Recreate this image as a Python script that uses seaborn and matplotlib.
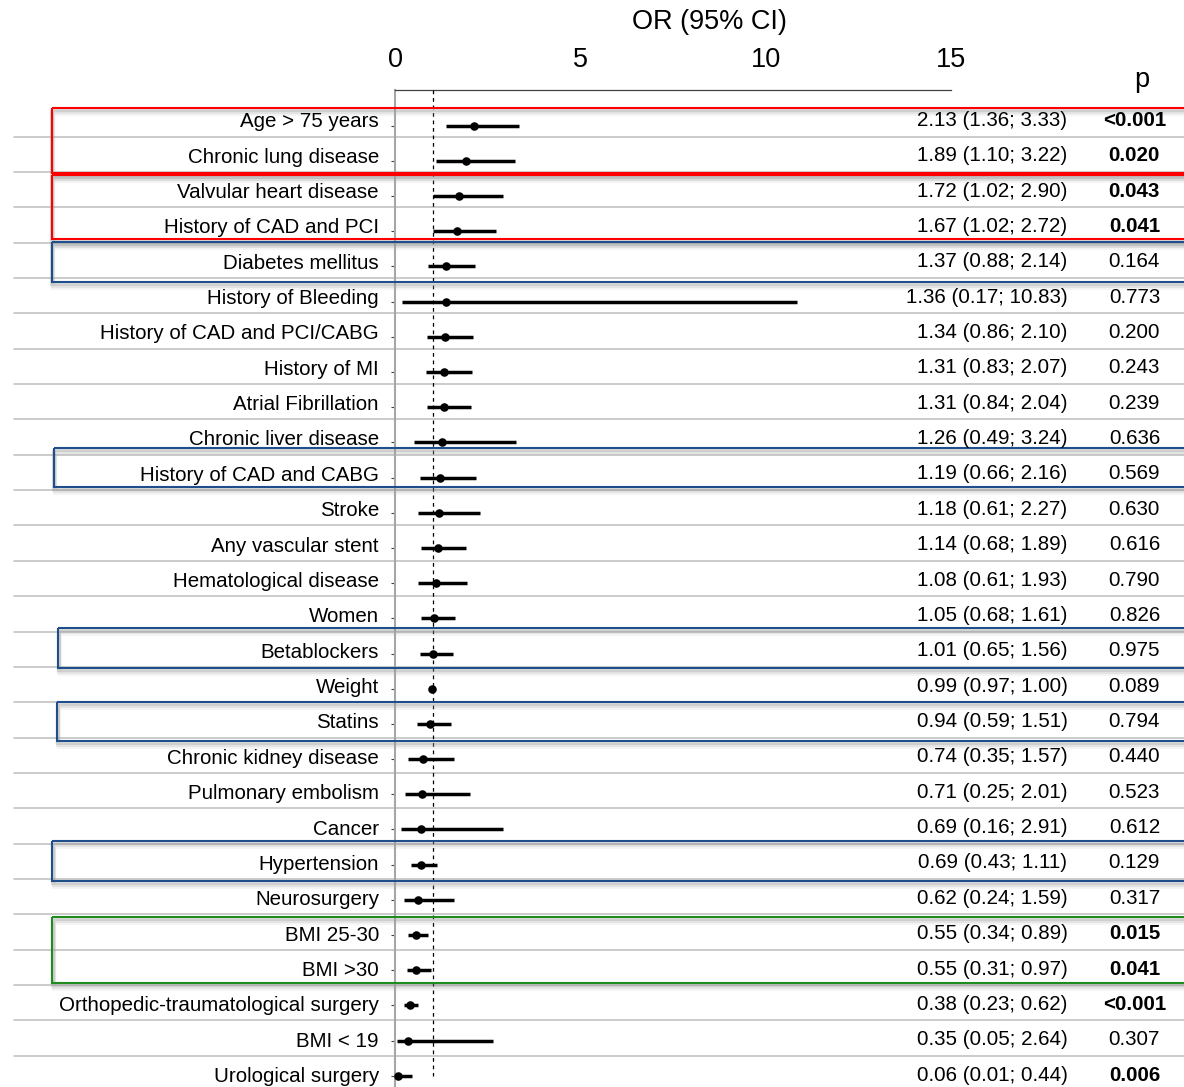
import matplotlib
matplotlib.use("Agg")
import matplotlib.pyplot as plt
import matplotlib.patheffects as pe
from matplotlib.patches import Rectangle
import seaborn as sns
import pandas as pd

# ---- data -------------------------------------------------------------
factors = [
    "Age > 75 years", "Chronic lung disease", "Valvular heart disease",
    "History of CAD and PCI", "Diabetes mellitus", "History of Bleeding",
    "History of CAD and PCI/CABG", "History of MI", "Atrial Fibrillation",
    "Chronic liver disease", "History of CAD and CABG", "Stroke",
    "Any vascular stent", "Hematological disease", "Women", "Betablockers",
    "Weight", "Statins", "Chronic kidney disease", "Pulmonary embolism",
    "Cancer", "Hypertension", "Neurosurgery", "BMI 25-30", "BMI >30",
    "Orthopedic-traumatological surgery", "BMI < 19", "Urological surgery",
]
odds_ratio = [2.13, 1.89, 1.72, 1.67, 1.37, 1.36, 1.34, 1.31, 1.31, 1.26,
              1.19, 1.18, 1.14, 1.08, 1.05, 1.01, 0.99, 0.94, 0.74, 0.71,
              0.69, 0.69, 0.62, 0.55, 0.55, 0.38, 0.35, 0.06]
ci_lower = [1.36, 1.10, 1.02, 1.02, 0.88, 0.17, 0.86, 0.83, 0.84, 0.49,
            0.66, 0.61, 0.68, 0.61, 0.68, 0.65, 0.97, 0.59, 0.35, 0.25,
            0.16, 0.43, 0.24, 0.34, 0.31, 0.23, 0.05, 0.01]
ci_upper = [3.33, 3.22, 2.90, 2.72, 2.14, 10.83, 2.10, 2.07, 2.04, 3.24,
            2.16, 2.27, 1.89, 1.93, 1.61, 1.56, 1.00, 1.51, 1.57, 2.01,
            2.91, 1.11, 1.59, 0.89, 0.97, 0.62, 2.64, 0.44]
p_values = ["<0.001", "0.020", "0.043", "0.041", "0.164", "0.773", "0.200",
            "0.243", "0.239", "0.636", "0.569", "0.630", "0.616", "0.790",
            "0.826", "0.975", "0.089", "0.794", "0.440", "0.523", "0.612",
            "0.129", "0.317", "0.015", "0.041", "<0.001", "0.307", "0.006"]
significant = [True, True, True, True, False, False, False, False, False,
               False, False, False, False, False, False, False, False, False,
               False, False, False, False, False, True, True, True, False,
               True]
x_ticks = [0, 5, 10, 15]

df = pd.DataFrame({"factor": factors, "or_": odds_ratio,
                   "lo": ci_lower, "hi": ci_upper})
df["row"] = range(len(df))

# ---- highlighted groups: (top edge, bottom edge, left edge in OR units, colour)
RED, BLUE, GREEN = "#FF0000", "#1F4E8C", "#1E8C1E"
highlight_boxes = [
    (-0.50, 1.33, -9.28, RED),
    (1.40, 3.23, -9.28, RED),
    (3.30, 4.43, -9.28, BLUE),
    (9.15, 10.27, -9.23, BLUE),
    (14.27, 15.41, -9.10, BLUE),
    (16.37, 17.49, -9.13, BLUE),
    (20.33, 21.46, -9.26, BLUE),
    (22.49, 24.36, -9.26, GREEN),
]

# ---- figure -----------------------------------------------------------
sns.set_theme(style="white")
plt.rcParams["font.family"] = ["Liberation Sans", "DejaVu Sans"]

W, H = 1184, 1087
fig = plt.figure(figsize=(W / 100, H / 100), dpi=100)
ax = fig.add_axes([0, 0, 1, (H - 90) / H])

unit_x, zero_x = 37.05, 395.5      # pixels per OR unit, pixel of OR = 0
unit_y, zero_y = 35.19, 125.7      # pixels per row, pixel of first row
ax.set_xlim(-zero_x / unit_x, (W - zero_x) / unit_x)
ax.set_ylim((H - zero_y) / unit_y, (90 - zero_y) / unit_y)

n = len(df)
FS = 14.8

# row separators
for k in range(n - 1):
    ax.axhline(0.31 + k * 1.0046, xmin=13.8 / W, xmax=1.0,
               color="#BDBDBD", lw=1.1, zorder=1)

# group boxes with a soft drop shadow
shadow = [
    pe.SimpleLineShadow(offset=(0.5, -1.5), shadow_color="#909090",
                        alpha=0.30, linewidth=3),
    pe.SimpleLineShadow(offset=(0.8, -3.0), shadow_color="#A0A0A0",
                        alpha=0.20, linewidth=3),
    pe.SimpleLineShadow(offset=(1.0, -4.5), shadow_color="#B0B0B0",
                        alpha=0.12, linewidth=3),
    pe.Normal(),
]
for top, bottom, left, col in highlight_boxes:
    rect = Rectangle((left, top), 40, bottom - top, fill=False,
                     edgecolor=col, lw=1.5, zorder=4, clip_on=True)
    rect.set_path_effects(shadow)
    ax.add_patch(rect)

# reference line at OR = 1
ax.vlines(1, (90 - zero_y) / unit_y, 27.0, colors="black",
          linestyles=(0, (3, 3)), lw=0.9, zorder=3)

# confidence intervals and point estimates
ax.hlines(df["row"], df["lo"], df["hi"], colors="black", lw=2.5, zorder=5)
sns.scatterplot(data=df, x="or_", y="row", color="black", s=38,
                edgecolor="black", linewidth=0, zorder=6, ax=ax,
                legend=False)

# axes styling
for side in ("right", "bottom"):
    ax.spines[side].set_visible(False)
ax.spines["top"].set_bounds(0, 15)
ax.spines["top"].set_color("#404040")
ax.spines["top"].set_linewidth(0.9)
ax.spines["left"].set_position(("data", 0))
ax.spines["left"].set_color("#A6A6A6")
ax.spines["left"].set_linewidth(1.5)

ax.xaxis.tick_top()
ax.set_xticks(x_ticks)
ax.set_xticklabels([str(t) for t in x_ticks])
ax.tick_params(axis="x", length=0, pad=12, labelsize=19.5, colors="black")
ax.set_yticks(df["row"])
ax.set_yticklabels([])
ax.tick_params(axis="y", left=True, length=2.6, width=0.8,
               color="#404040", direction="out")
ax.set_xlabel("")
ax.set_ylabel("")
ax.grid(False)

# row labels and statistics columns
label_x = (379 - zero_x) / unit_x
or_x = (1067.4 - zero_x) / unit_x
p_x = (1134.4 - zero_x) / unit_x
for i, row in df.iterrows():
    y_lab = i * 1.005 - 0.114
    y_stat = y_lab - 0.04
    ax.text(label_x, y_lab, row["factor"], ha="right", va="center",
            fontsize=FS, color="black", zorder=7)
    ax.text(or_x, y_stat,
            f"{row['or_']:.2f} ({row['lo']:.2f}; {row['hi']:.2f})",
            ha="right", va="center", fontsize=FS, color="black", zorder=7)
    ax.text(p_x, y_stat, p_values[i], ha="center", va="center",
            fontsize=FS, color="black",
            fontweight="bold" if significant[i] else "normal", zorder=7)

# column headers
ax.text((709 - zero_x) / unit_x, (22 - zero_y) / unit_y, "OR (95% CI)",
        ha="center", va="center", fontsize=19.5, color="black")
ax.text((1142 - zero_x) / unit_x, (80 - zero_y) / unit_y, "p",
        ha="center", va="center", fontsize=19.5, color="black")

fig.savefig("out.png", dpi=100)
